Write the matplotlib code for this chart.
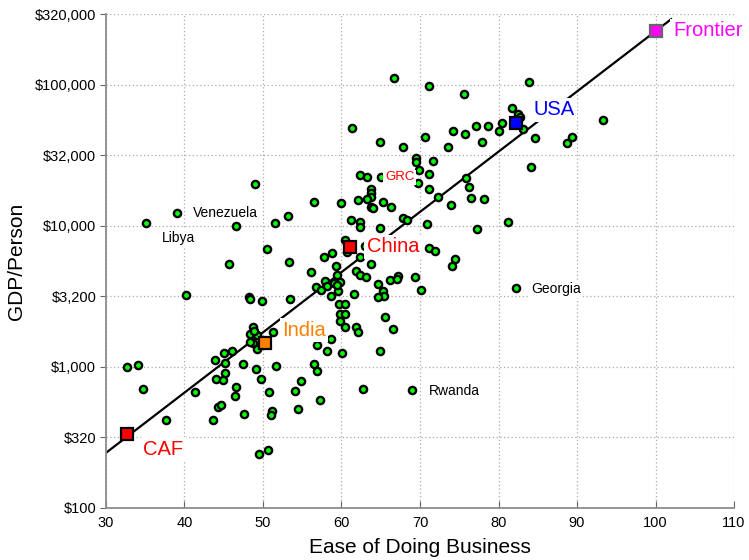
import numpy as np
import matplotlib.pyplot as plt

plt.rcParams["font.family"] = ["Liberation Sans", "DejaVu Sans"]

# countries (unlabelled): ease of doing business score, GDP per person ($)
ease = [
    66.7, 61.3, 64.9, 67.8, 69.5, 69.5, 62.4, 63.2, 49.0, 63.7,
    63.8, 63.7, 62.1, 63.3, 56.5, 60.0, 65.3, 66.3, 63.8, 64.0,
    46.6, 51.5, 53.2, 61.2, 62.4, 62.4, 64.9, 67.8, 68.3, 50.5,
    45.7, 53.3, 57.8, 58.8, 60.4, 59.3, 56.1, 60.7, 62.4, 63.0,
    61.9, 62.4, 63.1, 63.8, 64.6, 65.3, 65.4, 64.7, 66.2, 67.2,
    67.1, 69.3, 70.1, 56.8, 57.9, 58.2, 59.0, 59.8, 59.4, 58.7,
    48.2, 48.3, 49.9, 53.4, 40.2, 61.6, 57.4, 59.6, 59.4, 59.7,
    60.5, 59.8, 60.4, 59.8, 60.4, 61.8, 62.1, 65.5, 66.6, 64.9,
    60.1, 58.2, 56.9, 58.6, 48.7, 48.3, 49.2, 48.9, 48.7, 49.2,
    48.3, 51.3, 47.5, 49.1, 51.6, 49.7, 56.5, 56.9, 54.9, 54.1,
    50.8, 57.3, 54.5, 62.7, 47.6, 51.1, 51.0, 49.5, 50.6, 32.7,
    34.1, 34.75, 37.6, 41.3, 43.6, 43.9, 45.0, 46.1, 45.2, 45.2,
    44.0, 44.9, 46.5, 46.4, 44.3, 44.6, 71.2, 83.9, 75.6, 81.7,
    82.5, 82.7, 83.1, 80.4, 80.0, 77.1, 78.6, 74.2, 75.7, 70.7,
    77.9, 84.7, 88.7, 89.4, 93.3, 73.6, 71.6, 69.9, 71.1, 69.8,
    71.1, 84.1, 75.9, 76.3, 72.3, 76.5, 78.1, 74.0, 70.9, 77.3,
    81.2, 71.2, 71.9, 74.5, 74.1,
]
gdp = [
    112000, 49500, 39300, 36100, 30200, 28400, 23000, 22300, 19700, 18100,
    17100, 16100, 15200, 15600, 14800, 14400, 14700, 13500, 13600, 13300,
    9950, 10500, 11800, 11000, 10700, 9860, 9600, 11300, 11000, 6890,
    5350, 5490, 6030, 6440, 7980, 5220, 4680, 6550, 6030, 7180,
    4780, 4470, 4360, 5310, 3890, 3470, 3170, 3100, 4150, 4400,
    4170, 4360, 3510, 3650, 4050, 3710, 3900, 4010, 4470, 3150,
    3130, 3000, 2930, 3010, 3220, 3300, 3500, 3470, 3770, 2800,
    2790, 2380, 2370, 2110, 1920, 1920, 1760, 2240, 1850, 1290,
    1260, 1290, 1430, 1560, 1900, 1710, 1680, 1780, 1470, 1330,
    1500, 1760, 1050, 959, 1010, 824, 1045, 925, 796, 675,
    665, 585, 501, 692, 462, 485, 458, 240, 258, 995,
    1030, 692, 417, 658, 422, 1107, 1245, 1303, 1057, 902,
    815, 805, 714, 620, 518, 535, 98200, 104000, 85900, 68700,
    61700, 59300, 48300, 53200, 47000, 51200, 51200, 47200, 44700, 42800,
    39100, 41900, 38800, 42800, 56500, 36300, 28900, 24800, 23300, 20000,
    18100, 26100, 21700, 18900, 15900, 15800, 15400, 14000, 10300, 9480,
    10700, 6920, 6650, 5780, 5200,
]

# countries with a small text label
named = ["GRC", "Venezuela", "Libya", "Georgia", "Rwanda"]
named_ease = [65.0, 39.0, 35.1, 82.2, 69.0]
named_gdp = [22100, 12400, 10500, 3600, 684]
named_color = ["red", "black", "black", "black", "black"]
named_offset = [(3, 0), (11.7, 0), (11.5, -10.8), (11.3, -0.5), (11.9, -0.5)]

# highlighted countries
hl = ["CAF", "India", "China", "USA", "Frontier"]
hl_ease = [32.7, 50.3, 61.1, 82.2, 100]
hl_gdp = [331, 1466, 7100, 53200, 240000]
hl_color = ["#ff0000", "#ff8000", "#ff0000", "#0000ff", "#ff00ff"]
hl_offset = [(11.5, -10.6), (12, 9.5), (12, 0), (13, 9.7), (12.5, 0.5)]

# trend line
trend_ease = [30, 102]
trend_gdp = [245, 292000]

yticks = [100, 10**2.5, 1000, 10**3.5, 1e4, 10**4.5, 1e5, 10**5.5]
ylabels = ["$100", "$320", "$1,000", "$3,200", "$10,000", "$32,000",
           "$100,000", "$320,000"]

fig = plt.figure(figsize=(7.49, 5.60), dpi=100)
ax = fig.add_axes([0.1415, 0.0934, 0.8385, 0.8811])

ax.plot(trend_ease, trend_gdp, color="black", lw=1.6, zorder=2)
ax.plot(ease, gdp, "o", ms=5.2, mfc="#00ff00", mec="black", mew=1.7, zorder=3)
ax.plot(named_ease, named_gdp, "o", ms=5.2, mfc="#00ff00", mec="black",
        mew=1.7, zorder=3)

for name, x, y, c, off in zip(named, named_ease, named_gdp, named_color, named_offset):
    fs = 9.5 if name == "GRC" else 10
    ax.annotate(name, (x, y), xytext=off, textcoords="offset points",
                ha="left", va="center", fontsize=fs, color=c, zorder=4,
                bbox=dict(boxstyle="square,pad=0.12", fc="white", ec="none"))

for name, x, y, c, off in zip(hl, hl_ease, hl_gdp, hl_color, hl_offset):
    ax.plot(x, y, "s", ms=9.3, mfc=c, mec="black" if name != "Frontier" else "#666666",
            mew=1.6, zorder=5, clip_on=False)
    ax.annotate(name, (x, y), xytext=off, textcoords="offset points",
                ha="left", va="center", fontsize=14.5, color=c, zorder=6,
                annotation_clip=False,
                bbox=dict(boxstyle="square,pad=0.12", fc="white", ec="none"))

ax.set_yscale("log")
ax.set_xlim(30, 110)
ax.set_ylim(100, 10**5.5)
ax.set_xticks(np.arange(30, 111, 10))
ax.set_yticks(yticks)
ax.set_yticklabels(ylabels)
ax.minorticks_off()

ax.grid(True, linestyle=(0, (1, 2)), color="#aaaaaa", lw=0.9)
for s in ["top", "right"]:
    ax.spines[s].set_visible(False)
for s in ["left", "bottom"]:
    ax.spines[s].set_color("#8c8c8c")
    ax.spines[s].set_linewidth(1.3)
ax.tick_params(axis="x", direction="in", length=5, color="#666666",
               labelsize=10.5, pad=6)
ax.tick_params(axis="y", direction="out", length=4.5, color="#666666",
               labelsize=10.5, pad=2.5)

ax.set_xlabel("Ease of Doing Business", fontsize=15, labelpad=6)
ax.set_ylabel("GDP/Person", fontsize=15, labelpad=6)

fig.savefig("out.png", dpi=100)
